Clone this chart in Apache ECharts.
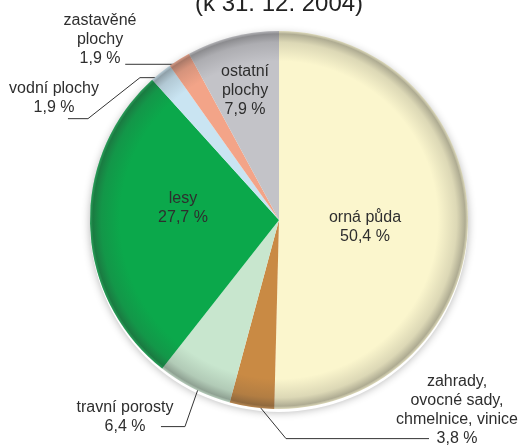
<!DOCTYPE html>
<html>
<head>
<meta charset="utf-8">
<script src="https://cdn.jsdelivr.net/npm/echarts@6/dist/echarts.min.js"></script>
<style>html,body{margin:0;padding:0;background:#fff}#c{width:527px;height:445px}</style>
</head>
<body>
<div id="c"></div>
<script>
const categories = ['orná půda', 'zahrady,\novocné sady,\nchmelnice, vinice', 'travní porosty', 'lesy', 'vodní plochy', 'zastavěné\nplochy', 'ostatní\nplochy'];
const values = [50.4, 3.8, 6.4, 27.7, 1.9, 1.9, 7.9];
const colors = ['#FBF6CD', '#C98A44', '#C8E6CE', '#0BA84B', '#C9E4F2', '#F3A488', '#C3C3C8'];
const titleText = '(k 31. 12. 2004)';

// layout / styling (not data)
const CX = 279, CY = 220, R = 189;
const place = [
  {x: 365, y: 227},
  {x: 457, y: 410, r: 0.955, seg: [[33, 40], [143, 0]]},
  {x: 125, y: 417, r: 0.85, seg: [[-22, 63], [-24, 0]]},
  {x: 183, y: 208},
  {x: 54, y: 98, r: 0.965, seg: [[-25, 0], [-52, 41], [-20, 0]]},
  {x: 100, y: 40, r: 0.97, seg: [[-57, 0]]},
  {x: 245, y: 91}
];
const outside = [false, true, true, false, true, true, false];

const total = values.reduce((a, b) => a + b, 0);
function midAngle(i) {
  let before = 0;
  for (let k = 0; k < i; k++) before += values[k];
  const frac = (before + values[i] / 2) / total;
  return (90 - frac * 360) * Math.PI / 180;
}

const fmt = v => v.toFixed(1).replace('.', ',') + ' %';

const chart = echarts.init(document.getElementById('c'));
chart.setOption({
  animation: false,
  title: {
    text: titleText, left: 190, top: -13,
    textStyle: {fontFamily: 'Liberation Sans, Arial', fontSize: 24, fontWeight: 'normal', color: '#222'}
  },
  series: [
    {
      type: 'pie', center: [CX, CY + 3], radius: R, silent: true, z: 1,
      label: {show: false}, labelLine: {show: false},
      itemStyle: {color: '#fff', shadowBlur: 8, shadowColor: 'rgba(0,0,0,0.3)'},
      data: [{value: 1}]
    },
    {
      type: 'pie', center: [CX, CY], radius: R, startAngle: 90, clockwise: true,
      avoidLabelOverlap: false, z: 2, silent: true,
      itemStyle: {borderWidth: 0},
      emphasis: {disabled: true},
      label: {
        show: true, color: '#2e2e2e', fontFamily: 'Liberation Sans, Arial', fontSize: 16, lineHeight: 19,
        align: 'center',
        formatter: p => p.name + '\n' + fmt(p.value)
      },
      labelLine: {show: true, lineStyle: {color: '#333', width: 1}},
      labelLayout: function (params) {
        const i = params.dataIndex;
        const pl = place[i];
        const res = {x: pl.x, y: pl.y, align: 'center', verticalAlign: 'middle'};
        if (outside[i]) {
          const a = midAngle(i);
          let px = CX + Math.cos(a) * R * pl.r;
          let py = CY - Math.sin(a) * R * pl.r;
          const pts = [[px, py]];
          pl.seg.forEach(s => { px += s[0]; py += s[1]; pts.push([px, py]); });
          res.labelLinePoints = pts;
        }
        return res;
      },
      data: values.map((v, i) => ({
        value: v, name: categories[i],
        itemStyle: {color: colors[i]},
        label: {position: outside[i] ? 'outside' : 'inside'},
        labelLine: {show: outside[i]}
      }))
    },
    {
      type: 'pie', center: [CX, CY], radius: R, silent: true, z: 3,
      label: {show: false}, labelLine: {show: false},
      emphasis: {disabled: true},
      itemStyle: {
        color: {
          type: 'radial', x: 0.5, y: 0.5, r: 0.5,
          colorStops: [
            {offset: 0, color: 'rgba(60,60,60,0)'},
            {offset: 0.84, color: 'rgba(60,60,60,0)'},
            {offset: 0.94, color: 'rgba(60,60,60,0.16)'},
            {offset: 0.985, color: 'rgba(50,50,50,0.38)'},
            {offset: 1, color: 'rgba(120,120,120,0.25)'}
          ]
        }
      },
      data: [{value: 1}]
    }
  ]
});
</script>
</body>
</html>
